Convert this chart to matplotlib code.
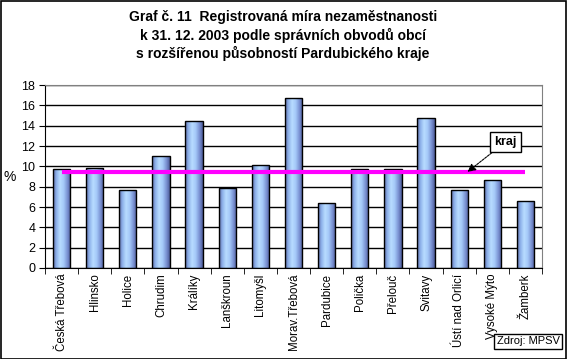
import matplotlib
matplotlib.use("Agg")
import matplotlib.pyplot as plt
import numpy as np
from matplotlib.colors import LinearSegmentedColormap
from matplotlib.patches import Rectangle

categories = ["Česká Třebová", "Hlinsko", "Holice", "Chrudim", "Králíky", "Lanškroun",
              "Litomyšl", "Morav.Třebová", "Pardubice", "Polička", "Přelouč", "Svitavy",
              "Ústí nad Orlicí", "Vysoké Mýto", "Žamberk"]
values = [9.7, 9.8, 7.7, 11.0, 14.5, 7.9, 10.1, 16.7, 6.4, 9.7, 9.7, 14.8, 7.7, 8.7, 6.6]
kraj = 9.4
yticks = [0, 2, 4, 6, 8, 10, 12, 14, 16, 18]

plt.rcParams['font.family'] = ['Liberation Sans', 'DejaVu Sans']

fig = plt.figure(figsize=(5.67, 3.59), dpi=100)
fig.patch.set_facecolor('white')
ax = fig.add_axes([45/567, 1-268/359, (542-45)/567, (268-85)/359])

x = np.arange(len(categories))
bars = ax.bar(x, values, width=0.52, color='none', edgecolor='black', linewidth=1.0, zorder=3)

cmap = LinearSegmentedColormap.from_list('cyl', ['#5a6aa8', '#90b4ec', '#b8dcff', '#a4c8f8', '#7c94d4', '#4c5a98'])
grad = np.linspace(0, 1, 256).reshape(1, -1)
for b in bars:
    x0 = b.get_x(); w = b.get_width(); h = b.get_height()
    im = ax.imshow(grad, cmap=cmap, aspect='auto', extent=[x0, x0 + w, 0, h], zorder=2.5)
    im.set_clip_path(b)

ax.set_xlim(-0.5, len(categories) - 0.5)
ax.set_ylim(0, 18)
ax.set_yticks(yticks)
ax.set_xticks(x)
ax.set_xticks(np.arange(len(categories) + 1) - 0.5, minor=True)
ax.set_xticklabels(categories, rotation=90, fontsize=8.3)
ax.tick_params(axis='x', which='major', length=0, pad=4)
ax.tick_params(axis='x', which='minor', length=4, color='black', direction='out')
ax.tick_params(axis='y', labelsize=9, length=4, color='black', pad=3)
ax.yaxis.grid(True, color='black', linewidth=1.0, zorder=1)
ax.set_axisbelow(True)
for s in ['top', 'right']:
    ax.spines[s].set_color('#808080')
for s in ['left', 'bottom']:
    ax.spines[s].set_color('black')
ax.set_ylabel('%', fontsize=10, rotation=0, labelpad=8, va='center')

ax.plot([x[0], x[-1]], [kraj, kraj], color='#ff00ff', linewidth=3, zorder=4, solid_capstyle='butt')

ax.annotate('kraj', xy=(12.25, kraj + 0.05), xytext=(13.4, 12.4), fontsize=9, fontweight='bold',
            ha='center', va='center',
            bbox=dict(boxstyle='square,pad=0.35', fc='white', ec='black', lw=1),
            arrowprops=dict(arrowstyle='-|>', color='black', linestyle=(0, (2, 1)), lw=0.8,
                            mutation_scale=12, shrinkA=0, shrinkB=0),
            zorder=6)

fig.text(283/567, 1-17/359, 'Graf č. 11  Registrovaná míra nezaměstnanosti', ha='center', va='center',
         fontsize=10, fontweight='bold')
fig.text(283/567, 1-35/359, 'k 31. 12. 2003 podle správních obvodů obcí', ha='center', va='center',
         fontsize=10, fontweight='bold')
fig.text(283/567, 1-53/359, 's rozšířenou působností Pardubického kraje', ha='center', va='center',
         fontsize=10, fontweight='bold')

fig.text(528/567, 1-341.5/359, 'Zdroj: MPSV', ha='center', va='center', fontsize=8,
         bbox=dict(boxstyle='square,pad=0.2', fc='white', ec='black', lw=1), zorder=10)

fig.add_artist(Rectangle((0.5/567, 0.5/359), 1 - 1.5/567, 1 - 1.5/359, transform=fig.transFigure,
                         fill=False, ec='black', lw=1.2))

fig.savefig('out.png', dpi=100)
